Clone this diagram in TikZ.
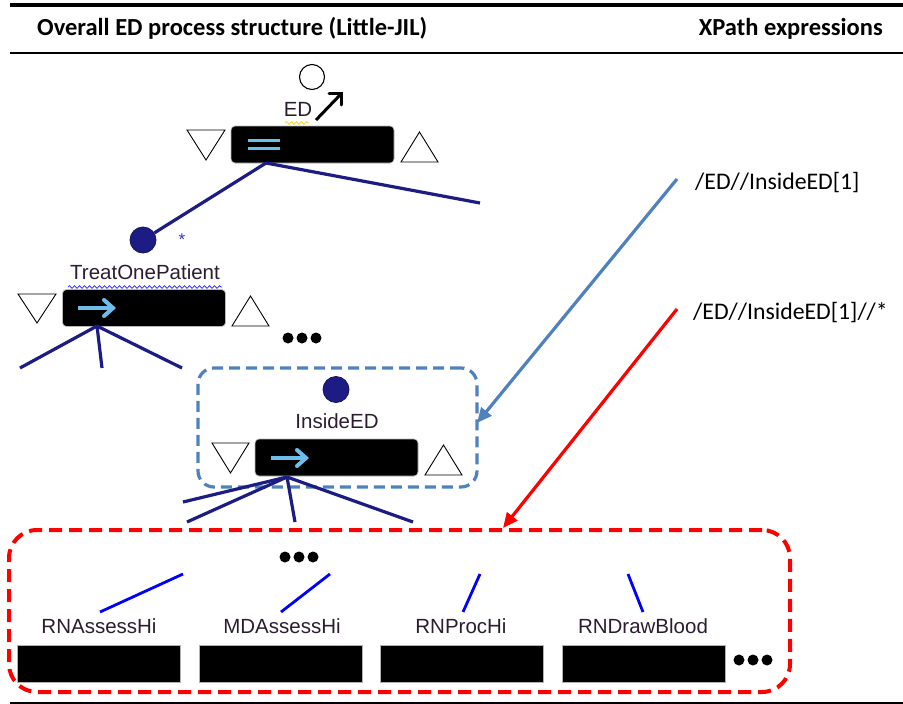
\documentclass[tikz,border=0pt]{standalone}
\usepackage{fontspec}
\setmainfont{Carlito}
\newfontfamily\uifont{Liberation Sans}
\usetikzlibrary{arrows.meta,decorations.pathmorphing}
\definecolor{navy}{HTML}{1C1C84}
\definecolor{lblue}{HTML}{6CBEEC}
\definecolor{sblue}{HTML}{4F81BD}
\definecolor{ink}{HTML}{2A1E2E}
\begin{document}
\begin{tikzpicture}[x=1pt,y=-1pt,
  bar/.style={fill=black,draw=gray!55,line width=0.7,rounded corners=4pt,minimum width=163,minimum height=37,inner sep=0},
  flatbar/.style={fill=black,draw=gray!60,line width=0.7,minimum width=163,minimum height=37,inner sep=0},
  tri/.style={draw=black,fill=white,line width=0.9,line join=miter},
  navyline/.style={draw=navy,line width=3.2},
  blueline/.style={draw=blue,line width=2.8},
  dotb/.style={circle,fill=black,inner sep=0,minimum size=11},
  lbl/.style={font=\uifont\fontsize{20.5}{22}\selectfont,text=ink,inner sep=0,anchor=base},
  hdr/.style={font=\bfseries\fontsize{24.5}{27}\selectfont,inner sep=0},
  xp/.style={font=\fontsize{23.8}{26}\selectfont,inner sep=0,anchor=base west},
  glyph/.style={draw=lblue,line width=4},
  ball/.style={circle,fill=navy,draw=navy!70!black,line width=0.8,minimum size=26,inner sep=0}
]
\useasboundingbox (0,0) rectangle (903,704);

% header
\draw[line width=4] (10,5) -- (903,5);
\draw[line width=2.5] (10,53) -- (903,53);
\draw[line width=2.5] (10,703) -- (903,703);
\node[hdr,anchor=base west] (h1) at (37,35) {Overall ED process structure (Little-JIL)};
\node[hdr,anchor=base east] (h2) at (883,35) {XPath expressions};

% ---- ED step
\node[circle,draw=black,fill=white,line width=1.1,minimum size=25,inner sep=0] (edc) at (312,77) {};
\node[lbl] (edl) at (298,116) {ED};
\draw[yellow!70!orange,line width=0.8,decorate,decoration={snake,amplitude=1.3,segment length=5}] (285,123) -- (309,123);
\draw[line width=3] (316,120) -- (340,95);
\draw[line width=3,line cap=round] (329,93) -- (341,93) -- (341,105);
\node[bar] (edbar) at (312.5,144.5) {};
\draw[glyph,line width=3] (248,140) -- (280,140);
\draw[glyph,line width=3] (248,148) -- (280,148);
\draw[tri] (187,130) -- (225,130) -- (206,160) -- cycle;
\draw[tri] (401,162) -- (438,162) -- (419.5,132) -- cycle;

% ---- TreatOnePatient
\node[ball] (topc) at (143,240) {};
\node[font=\uifont\fontsize{17}{17}\selectfont,text=blue!60!gray,inner sep=0] (star) at (182,240) {*};
\node[lbl] (topl) at (145,279) {TreatOnePatient};
\draw[blue!80!white,line width=0.8,decorate,decoration={snake,amplitude=1.3,segment length=5}] (68,287) -- (222,287);
\node[bar] (topbar) at (144,308) {};
\draw[glyph] (78,308) -- (112,308);
\draw[glyph,line cap=round] (104,300) -- (113,308) -- (104,316);
\draw[tri] (18,294) -- (56,294) -- (37,323) -- cycle;
\draw[tri] (232,326) -- (269,326) -- (250.5,296) -- cycle;

\coordinate (edroot) at (266,163);
\coordinate (edr) at (480,203);
\draw[navyline] (edroot) -- (topc);
\draw[navyline] (edroot) -- (edr);

\coordinate (toproot) at (97,326);
\coordinate (t1) at (20,368);
\coordinate (t2) at (102,368);
\coordinate (t3) at (182,368);
\draw[navyline] (toproot) -- (t1);
\draw[navyline] (toproot) -- (t2);
\draw[navyline] (toproot) -- (t3);

\node[dotb] (d1) at (288,338) {};
\node[dotb] (d2) at (302,338) {};
\node[dotb] (d3) at (316,338) {};

% ---- InsideED
\node[ball] (iec) at (336,389.5) {};
\node[lbl] (iel) at (337,428) {InsideED};
\node[bar] (iebar) at (336.5,457.5) {};
\draw[glyph] (271,458) -- (305,458);
\draw[glyph,line cap=round] (297,450) -- (306,458) -- (297,466);
\draw[tri] (212,443) -- (249,443) -- (230.5,473) -- cycle;
\draw[tri] (425,475) -- (462,475) -- (443.5,445) -- cycle;
\node[draw=sblue,line width=3.2,dash pattern=on 11pt off 6pt,rounded corners=16pt,minimum width=279,minimum height=119,inner sep=0] (ibox) at (337.5,427.5) {};

\coordinate (ieroot) at (287,477);
\coordinate (i1) at (183,502);
\coordinate (i2) at (187,522);
\coordinate (i3) at (295,522);
\coordinate (i4) at (413,522);
\draw[navyline] (ieroot) -- (i1);
\draw[navyline] (ieroot) -- (i2);
\draw[navyline] (ieroot) -- (i3);
\draw[navyline] (ieroot) -- (i4);

% ---- children box
\node[draw=red,line width=4,dash pattern=on 13pt off 7pt,rounded corners=28pt,minimum width=781,minimum height=162,inner sep=0] (rbox) at (399.5,611) {};
\node[dotb] (e1) at (285,557) {};
\node[dotb] (e2) at (299,557) {};
\node[dotb] (e3) at (313,557) {};

\node[lbl] (l1) at (99,633) {RNAssessHi};
\node[lbl] (l2) at (282,633) {MDAssessHi};
\node[lbl] (l3) at (461,633) {RNProcHi};
\node[lbl] (l4) at (643,633) {RNDrawBlood};

\node[flatbar] (b1) at (98.5,663.5) {};
\node[flatbar] (b2) at (280.5,663.5) {};
\node[flatbar] (b3) at (461.5,663.5) {};
\node[flatbar] (b4) at (643.5,663.5) {};
\node[dotb] (f1) at (739,660) {};
\node[dotb] (f2) at (753,660) {};
\node[dotb] (f3) at (767,660) {};

\coordinate (c1a) at (100,612); \coordinate (c1b) at (183,574);
\coordinate (c2a) at (281,612); \coordinate (c2b) at (330,574);
\coordinate (c3a) at (463,612); \coordinate (c3b) at (480,574);
\coordinate (c4a) at (643,612); \coordinate (c4b) at (628,574);
\draw[blueline] (c1a) -- (c1b);
\draw[blueline] (c2a) -- (c2b);
\draw[blueline] (c3a) -- (c3b);
\draw[blueline] (c4a) -- (c4b);

% ---- XPath expressions
\node[xp] (x1) at (695,189) {/ED//InsideED[1]};
\node[xp] (x2) at (693,319) {/ED//InsideED[1]//*};
\coordinate (a1s) at (677,179);
\coordinate (a1e) at (477,423);
\coordinate (a2s) at (677,309);
\coordinate (a2e) at (503,528);
\draw[sblue,line width=3.2,-{Triangle[length=15pt,width=13pt]}] (a1s) -- (a1e);
\draw[red,line width=3.2,-{Triangle[length=15pt,width=13pt]}] (a2s) -- (a2e);
\end{tikzpicture}
\end{document}
